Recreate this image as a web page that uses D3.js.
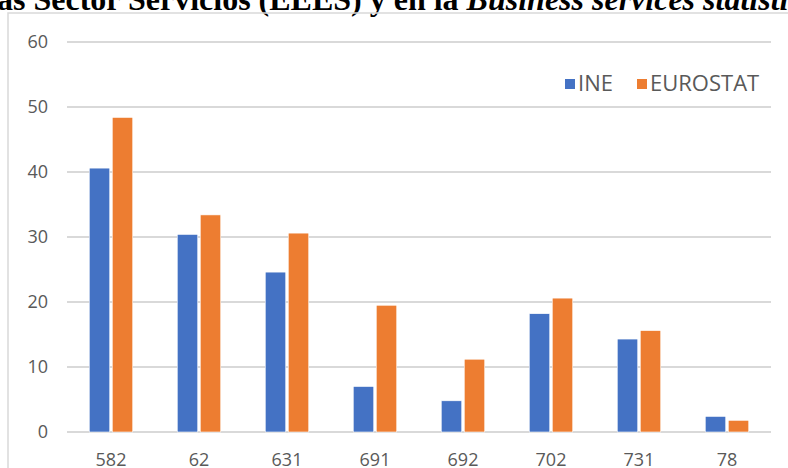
<!DOCTYPE html>
<html>
<head>
<meta charset="utf-8">
<script src="https://cdn.jsdelivr.net/npm/d3@7"></script>
<style>
  body { margin: 0; background: #fff; overflow: hidden; }
  svg { display: block; }
</style>
</head>
<body>
<svg id="chart"></svg>
<script>
// chart values
const categories = ['582', '62', '631', '691', '692', '702', '731', '78'];
const seriesNames = ['INE', 'EUROSTAT'];
const ineValues = [40.6, 30.4, 24.6, 7.0, 4.8, 18.2, 14.3, 2.4];
const eurostatValues = [48.4, 33.4, 30.6, 19.5, 11.2, 20.6, 15.6, 1.8];
const yTicks = [0, 10, 20, 30, 40, 50, 60];
const colors = ['#4472C4', '#ED7D31'];

const config = {
    width: 788,
    height: 468,
    margin: {top: 42, right: 17, bottom: 36, left: 67}
};

const svg = d3.select('#chart')
    .attr('width', config.width)
    .attr('height', config.height);

// cut-off title from the document above
const title = svg.append('text')
    .attr('x', -3)
    .attr('y', 10)
    .attr('font-family', '"Liberation Serif", "Times New Roman", serif')
    .attr('font-weight', 'bold')
    .attr('font-size', 32)
    .attr('fill', '#000');
title.append('tspan').text('as Sector Servicios (EEES) y en la ');
title.append('tspan').attr('font-style', 'italic').text('Business services statistics');

// chart frame
svg.append('rect')
    .attr('x', 8)
    .attr('y', 13)
    .attr('width', 820)
    .attr('height', 520)
    .attr('fill', 'none')
    .attr('stroke', '#d9d9d9')
    .attr('stroke-width', 1.5);

const innerW = config.width - config.margin.left - config.margin.right;
const innerH = config.height - config.margin.top - config.margin.bottom;

const chart = svg.append('g')
    .attr('transform', `translate(${config.margin.left},${config.margin.top})`);

const yScale = d3.scaleLinear().domain([0, 60]).range([innerH, 0]);
const xScale = d3.scaleBand().domain(categories).range([0, innerW]);
const barW = 20.5, barGap = 2.5;
const xSub = d3.scaleOrdinal().domain(seriesNames)
    .range([-(barW + barGap / 2), barGap / 2]);

// gridlines
chart.selectAll('.grid')
    .data(yTicks)
    .join('line')
    .attr('class', 'grid')
    .attr('x1', 0)
    .attr('x2', innerW)
    .attr('y1', d => yScale(d))
    .attr('y2', d => yScale(d))
    .attr('stroke', '#d9d9d9')
    .attr('stroke-width', 1.8);

// y labels
chart.selectAll('.ylab')
    .data(yTicks)
    .join('text')
    .attr('class', 'ylab')
    .attr('x', -19)
    .attr('y', d => yScale(d))
    .attr('dy', '0.35em')
    .attr('text-anchor', 'end')
    .attr('font-family', '"Open Sans", sans-serif')
    .attr('font-size', 18)
    .attr('fill', '#595959')
    .text(d => d);

// bars
const rows = categories.map((c, i) => ({cat: c, values: [ineValues[i], eurostatValues[i]]}));
const groups = chart.selectAll('.cat')
    .data(rows)
    .join('g')
    .attr('class', 'cat')
    .attr('transform', d => `translate(${xScale(d.cat) + xScale.bandwidth() / 2},0)`);

groups.selectAll('rect')
    .data(d => d.values.map((v, j) => ({series: seriesNames[j], value: v, idx: j})))
    .join('rect')
    .attr('x', d => xSub(d.series))
    .attr('width', barW)
    .attr('y', d => yScale(d.value))
    .attr('height', d => yScale(0) - yScale(d.value))
    .attr('fill', d => colors[d.idx])
    .attr('stroke', '#fff')
    .attr('stroke-width', 0.6);

// x labels
chart.selectAll('.xlab')
    .data(categories)
    .join('text')
    .attr('class', 'xlab')
    .attr('x', d => xScale(d) + xScale.bandwidth() / 2)
    .attr('y', innerH + 33.5)
    .attr('text-anchor', 'middle')
    .attr('font-family', '"Open Sans", sans-serif')
    .attr('font-size', 18)
    .attr('fill', '#595959')
    .text(d => d);

// legend
const legend = svg.append('g').attr('transform', 'translate(565,79)');
const legendX = [0, 72];
seriesNames.forEach((name, i) => {
    legend.append('rect')
        .attr('x', legendX[i])
        .attr('y', 0)
        .attr('width', 10)
        .attr('height', 10)
        .attr('fill', colors[i]);
    legend.append('text')
        .attr('x', legendX[i] + 13)
        .attr('y', 12)
        .attr('font-family', '"Open Sans", sans-serif')
        .attr('font-size', 22)
        .attr('fill', '#595959')
        .text(name);
});
</script>
</body>
</html>
